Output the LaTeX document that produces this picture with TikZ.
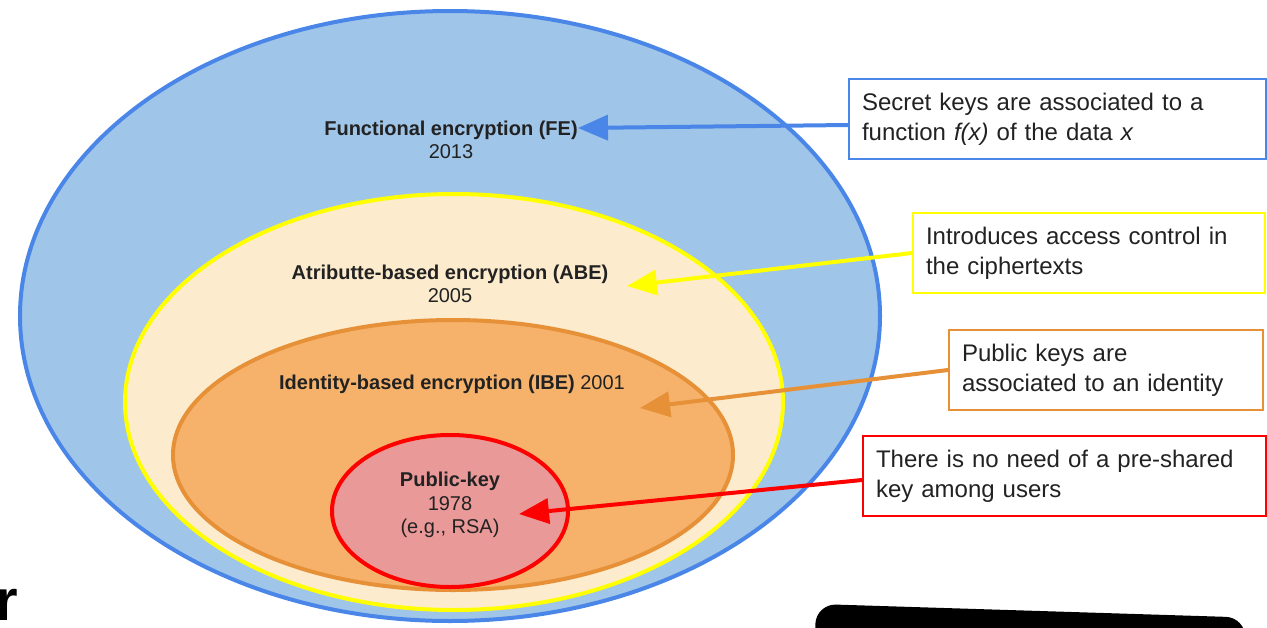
\documentclass[tikz,border=0pt]{standalone}
\usepackage{fontspec}
\setmainfont{Liberation Sans}
\usetikzlibrary{shapes.geometric,arrows.meta}

\definecolor{feFill}{HTML}{9FC5E8}
\definecolor{feLine}{HTML}{4A86E8}
\definecolor{abeFill}{HTML}{FDEBCD}
\definecolor{abeLine}{HTML}{FFFF00}
\definecolor{ibeFill}{HTML}{F6B26B}
\definecolor{ibeLine}{HTML}{E69138}
\definecolor{pkFill}{HTML}{EA9999}
\definecolor{pkLine}{HTML}{FF0000}
\definecolor{ink}{HTML}{222222}

\begin{document}
\begin{tikzpicture}[x=1pt,y=-1pt,
  layer/.style={ellipse, draw, line width=4pt, inner sep=0pt},
  lbl/.style={text=ink, font=\fontsize{20}{23.5}\selectfont, align=center, inner sep=0pt},
  note/.style={draw, line width=2pt, fill=white, anchor=north west, minimum height=80pt,
    inner xsep=13pt, inner ysep=0pt, align=left, text=ink,
    font=\fontsize{24}{30}\selectfont},
  link/.style={line width=4pt, -{Triangle[length=30pt,width=25pt]}}
]
\useasboundingbox (0,0) rectangle (1267,627);
\clip (0,0) rectangle (1267,627);

% nested families of encryption schemes
\node[layer, draw=feLine,  fill=feFill,  minimum width=860pt, minimum height=610pt] (fe)  at (450,316) {};
\node[layer, draw=abeLine, fill=abeFill, minimum width=658pt, minimum height=416pt] (abe) at (454,402) {};
\node[layer, draw=ibeLine, fill=ibeFill, minimum width=560pt, minimum height=270pt] (ibe) at (453,455) {};
\node[layer, draw=pkLine,  fill=pkFill,  minimum width=236pt, minimum height=152pt] (pk)  at (450,511) {};

% scheme names and years
\node[lbl] (feLbl)  at (451,140) {\textbf{Functional encryption (FE)}\\2013};
\node[lbl] (abeLbl) at (450,284) {\textbf{Atributte-based encryption (ABE)}\\2005};
\node[lbl] (ibeLbl) at (452,384) {\textbf{Identity-based encryption (IBE)} 2001};
\node[lbl] (pkLbl)  at (450,505) {\textbf{Public-key}\\1978\\(e.g., RSA)};

% explanatory notes
\node[note, draw=feLine,  minimum width=417pt, text width=391pt] (feBox)  at (848,78)
  {Secret keys are associated to a\\function \textit{f(x)} of the data \textit{x}};
\node[note, draw=abeLine, minimum width=352pt, text width=326pt] (abeBox) at (912,212)
  {Introduces access control in\\the ciphertexts};
\node[note, draw=ibeLine, minimum width=314pt, text width=288pt] (ibeBox) at (948,329)
  {Public keys are\\associated to an identity};
\node[note, draw=pkLine,  minimum width=403pt, text width=377pt] (pkBox)  at (862,435)
  {There is no need of a pre-shared\\key among users};

% arrow targets inside the ellipses
\coordinate (feTip)  at (578,128);
\coordinate (abeTip) at (627,286);
\coordinate (ibeTip) at (640,408);
\coordinate (pkTip)  at (519,514);

\draw[link, feLine]  ([yshift=-6pt]feBox.west) -- (feTip);
\draw[link, abeLine] (abeBox.west) -- (abeTip);
\draw[link, ibeLine] (ibeBox.west) -- (ibeTip);
\draw[link, pkLine]  ([yshift=-4pt]pkBox.west) -- (pkTip);

% fragments at the lower edge
\node[font=\fontsize{58}{58}\selectfont\bfseries, anchor=base west, inner sep=0pt] (edgeChar) at (-5,620) {r};
\fill[black, rounded corners=20pt, rotate around={-1.8:(817,604)}] (816,604) rectangle (1246,700);
\end{tikzpicture}
\end{document}
